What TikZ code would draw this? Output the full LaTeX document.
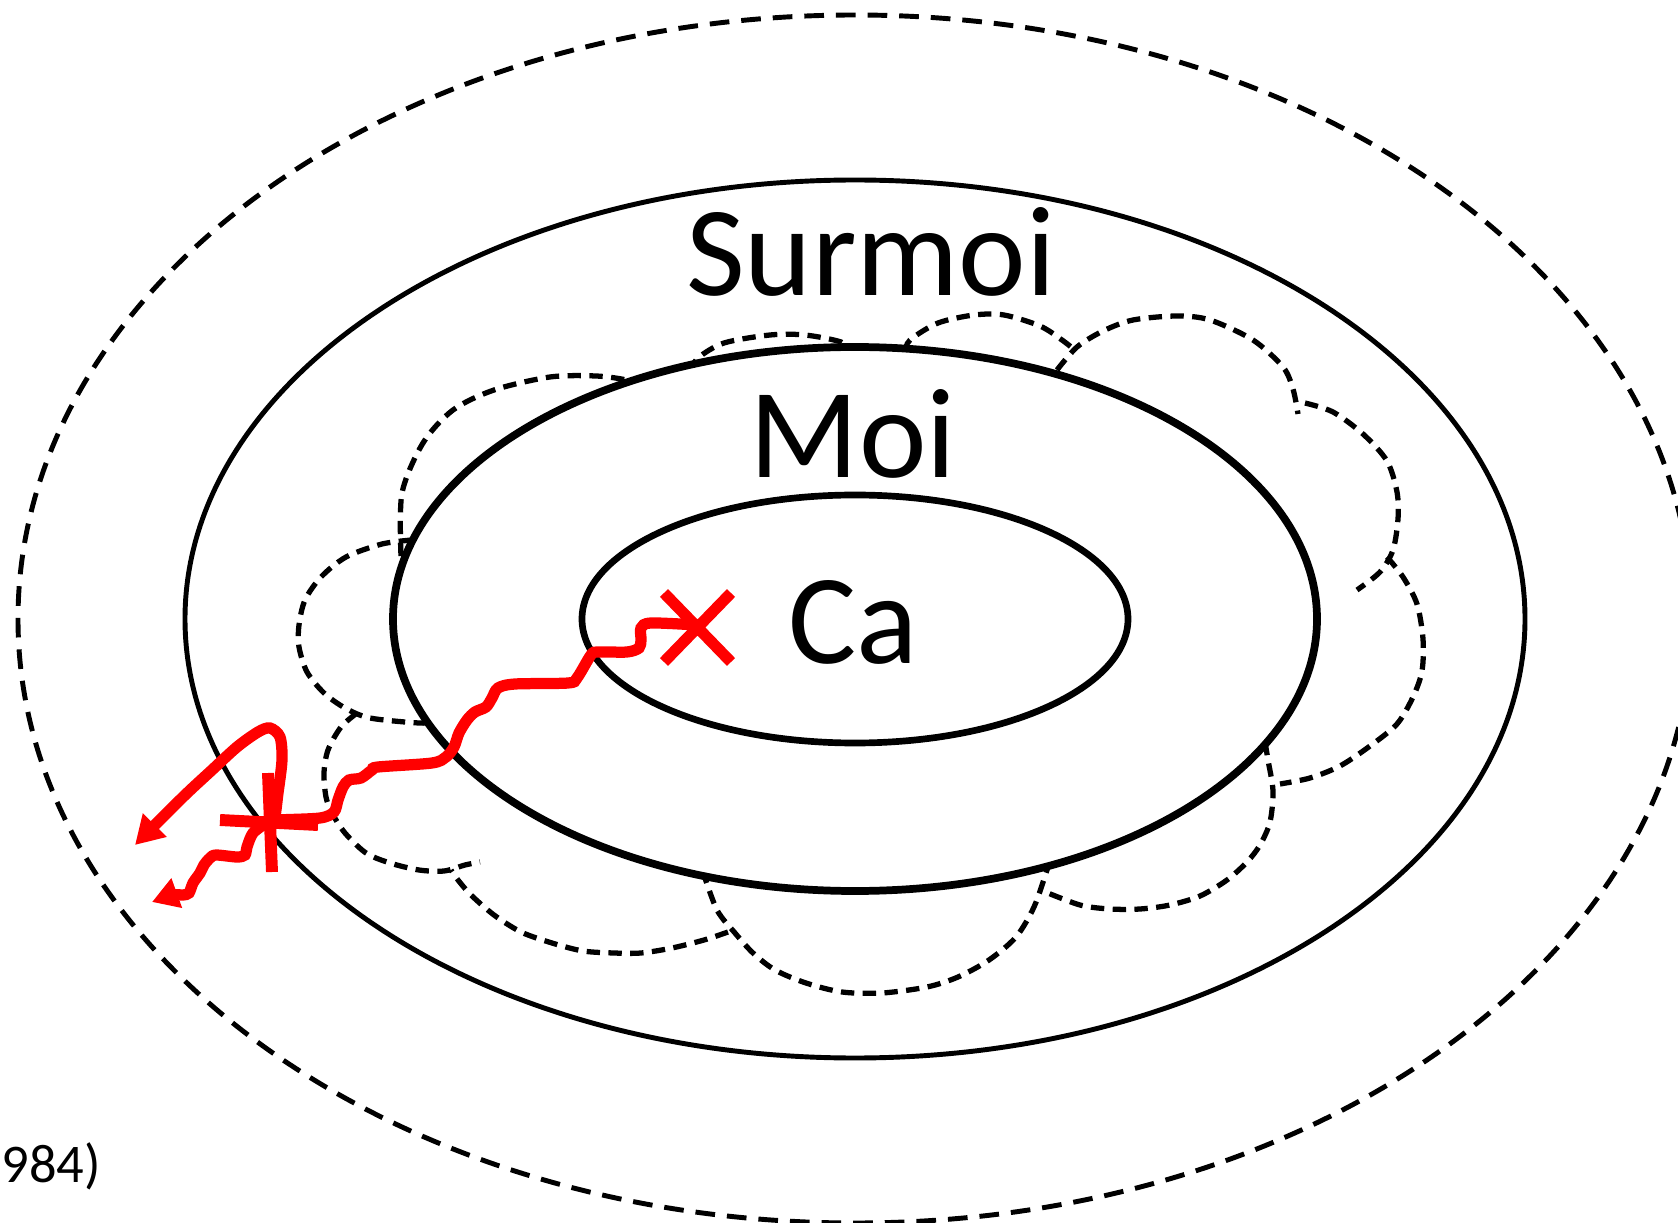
\documentclass[tikz,border=0pt]{standalone}
\usepackage{fontspec}
\setmainfont{Carlito}
\usetikzlibrary{arrows.meta}

\begin{document}
\begin{tikzpicture}[x=0.1mm,y=0.1mm,
    ring/.style={draw=black,line width=1.4pt},
    cloudarc/.style={draw=black,line width=1.5pt,dash pattern=on 3.8pt off 2.4pt},
    redline/.style={draw=red,line width=3.2pt},
    layer/.style={anchor=base,font=\fontsize{36.4}{40}\selectfont}]
    \useasboundingbox (0,0) rectangle (1678,1222);

    \draw[line width=1.4pt,dash pattern=on 5.6pt off 3.4pt] (855,603) ellipse [x radius=837, y radius=604];
    \draw[ring] (855,603) ellipse [x radius=670, y radius=439];

    \draw[cloudarc] plot[smooth] coordinates {(412,682) (382,678) (346,665) (321,645) (305,622) (299,597) (299,575) (307,550) (324,529) (345,514) (370,504) (419,499) (445,500)};
    \draw[cloudarc] plot[smooth] coordinates {(401,666) (402,729) (423,779) (453,812) (494,832) (550,845) (596,846) (627,842) (660,834)};
    \draw[cloudarc] plot[smooth] coordinates {(690,850) (698,864) (724,879) (770,887) (805,887) (841,880) (852,870)};
    \draw[cloudarc] plot[smooth] coordinates {(905,870) (910,882) (938,899) (974,907) (1004,907) (1040,896) (1062,882) (1076,871)};
    \draw[cloudarc] plot[smooth] coordinates {(1057,852) (1077,875) (1103,891) (1133,902) (1177,906) (1210,902) (1253,882) (1283,855) (1293,833) (1298,808)};
    \draw[cloudarc] plot[smooth] coordinates {(1305,819) (1333,810) (1363,788) (1387,761) (1397,730) (1398,703) (1393,672) (1380,650) (1357,632)};
    \draw[cloudarc] plot[smooth] coordinates {(1387,665) (1403,645) (1417,618) (1423,583) (1422,551) (1413,525) (1397,498) (1370,476) (1340,456) (1310,444) (1280,438)};
    \draw[cloudarc] plot[smooth] coordinates {(1265,480) (1268,462) (1273,431) (1270,400) (1260,377) (1247,360) (1227,342) (1200,326) (1170,317) (1140,313) (1110,313) (1080,317) (1043,331)};
    \draw[cloudarc] plot[smooth] coordinates {(1050,362) (1047,352) (1034,315) (1016,285) (989,262) (958,245) (927,235) (882,229) (842,230) (806,239) (775,252) (753,269) (735,289) (717,312) (703,350)};
    \draw[cloudarc] plot[smooth] coordinates {(728,290) (704,282) (672,274) (641,269) (614,269) (583,271) (552,279) (521,290) (494,307) (471,327) (458,342) (451,352)};
    \draw[cloudarc] plot[smooth] coordinates {(357,509) (341,495) (328,472) (324,449) (326,425) (332,409) (345,389) (366,369) (390,359) (419,352) (444,351) (465,357) (480,360)};

    \filldraw[ring,fill=white,line width=2.2pt] (855,603) ellipse [x radius=462, y radius=272];
    \draw[ring,line width=1.9pt] (855,603) ellipse [x radius=273, y radius=124];

    \node[layer] (surmoi) at (871,926) {Surmoi};
    \node[layer] (moi) at (853,744) {Moi};
    \node[layer] (ca) at (853,559) {Ca};
    \node[anchor=base west,inner sep=0pt,font=\fontsize{15.5}{18}\selectfont] (ref) at (1,40) {984)};

    \draw[redline] (664,629) -- (731,560) (731,629) -- (664,560);
    \coordinate (trauma) at (697,597);
    \coordinate (knot) at (266,400);
    \draw[redline] plot[smooth] coordinates {(697,597) (651,599) (641,594) (641,582) (639,574) (627,570) (598,570) (591,567) (577,544) (568,539) (515,538) (498,534) (492,524) (486,515) (475,510) (467,502) (459,489) (454,475) (446,465) (432,459) (378,455) (372,452) (361,444) (349,442) (343,435) (338,422) (334,410) (320,404) (278,402) (266,400)};
    \draw[redline,line width=3.4pt] (220,402) -- (318,397) (268,449) -- (272,350);
    \draw[redline,-{Triangle[length=8pt,width=9pt]}] plot[smooth] coordinates {(266,400) (274,402) (278,429) (282,462) (280,485) (270,494) (258,490) (237,475) (212,452) (183,425) (135,377)};
    \draw[redline,-{Triangle[length=7.5pt,width=8.5pt]}] plot[smooth] coordinates {(266,399) (253,389) (247,375) (245,367) (237,365) (216,367) (210,364) (204,357) (200,349) (193,339) (189,329) (183,327) (173,327) (152,320)};
  \end{tikzpicture}
\end{document}
